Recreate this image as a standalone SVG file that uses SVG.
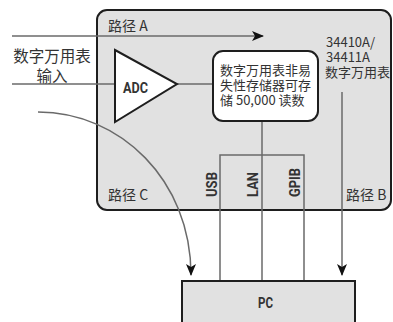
<svg xmlns="http://www.w3.org/2000/svg" width="393" height="322" viewBox="0 0 393 322">
<defs>
<style>
.box{fill:#e1e1e1;stroke:#1e1e1e;stroke-width:2}
.wbox{fill:#fff;stroke:#1e1e1e;stroke-width:2}
.ln{fill:none;stroke:#6a6a6a;stroke-width:1.5}
.t{font-family:"Noto Sans CJK SC","Noto Sans",sans-serif;font-size:14px;fill:#333}
.m{font-family:"Noto Sans CJK SC","Noto Sans",sans-serif;font-size:13px;fill:#333}
.l{font-family:"Noto Sans CJK SC","Noto Sans",sans-serif;font-size:15.5px;fill:#333}
.b{font-family:"Roboto","Liberation Sans",sans-serif;font-weight:bold;font-size:14px;fill:#333}
</style>
<marker id="ah" markerWidth="12" markerHeight="10" refX="11" refY="5" orient="auto" markerUnits="userSpaceOnUse">
<path d="M0,0 L12,5 L0,10 L3,5 Z" fill="#111"/>
</marker>
</defs>
<g id="main">
<rect class="box" x="97" y="10" width="294" height="200" rx="10"/>
<text class="t" x="108" y="31">路径 A</text>
<text class="t" x="108" y="200">路径 C</text>
<text class="t" x="346" y="200">路径 B</text>
<text class="m" x="326" y="47">34410A/</text>
<text class="m" x="326" y="62">34411A</text>
<text class="m" x="325" y="77">数字万用表</text>
</g>
<g id="input-label">
<text class="l" x="52" y="62" text-anchor="middle">数字万用表</text>
<text class="l" x="52" y="82" text-anchor="middle">输入</text>
</g>
<g id="connectors">
<line class="ln" x1="12" y1="36" x2="263" y2="36" marker-end="url(#ah)"/>
<line class="ln" x1="12" y1="84" x2="115" y2="84"/>
<line class="ln" x1="177" y1="84" x2="213" y2="84"/>
<line class="ln" x1="262" y1="121" x2="262" y2="281"/>
<polyline class="ln" points="220,281 220,155 304,155 304,281"/>
<line class="ln" x1="342" y1="92" x2="342" y2="275" marker-end="url(#ah)"/>
<path class="ln" d="M38,112 C120,112 191,180 191,275" marker-end="url(#ah)"/>
</g>
<g id="adc">
<polygon points="115,50 177,84 115,122" fill="#fff" stroke="#1e1e1e" stroke-width="2"/>
<text class="b" x="123" y="93" textLength="25" lengthAdjust="spacingAndGlyphs">ADC</text>
</g>
<g id="memory">
<rect class="wbox" x="213" y="51" width="105" height="70" rx="10"/>
<text class="m" x="220" y="75">数字万用表非易</text>
<text class="m" x="220" y="90">失性存储器可存</text>
<text class="m" x="220" y="105">储 50,000 读数</text>
</g>
<g id="bus-labels">
<text class="b" transform="translate(217,197) rotate(-90)" textLength="25" lengthAdjust="spacingAndGlyphs">USB</text>
<text class="b" transform="translate(258,197) rotate(-90)" textLength="25" lengthAdjust="spacingAndGlyphs">LAN</text>
<text class="b" transform="translate(300,197) rotate(-90)" textLength="29" lengthAdjust="spacingAndGlyphs">GPIB</text>
</g>
<g id="pc">
<rect class="box" x="182" y="281" width="173" height="50"/>
<text class="b" x="258" y="308" textLength="15" lengthAdjust="spacingAndGlyphs">PC</text>
</g>
</svg>
